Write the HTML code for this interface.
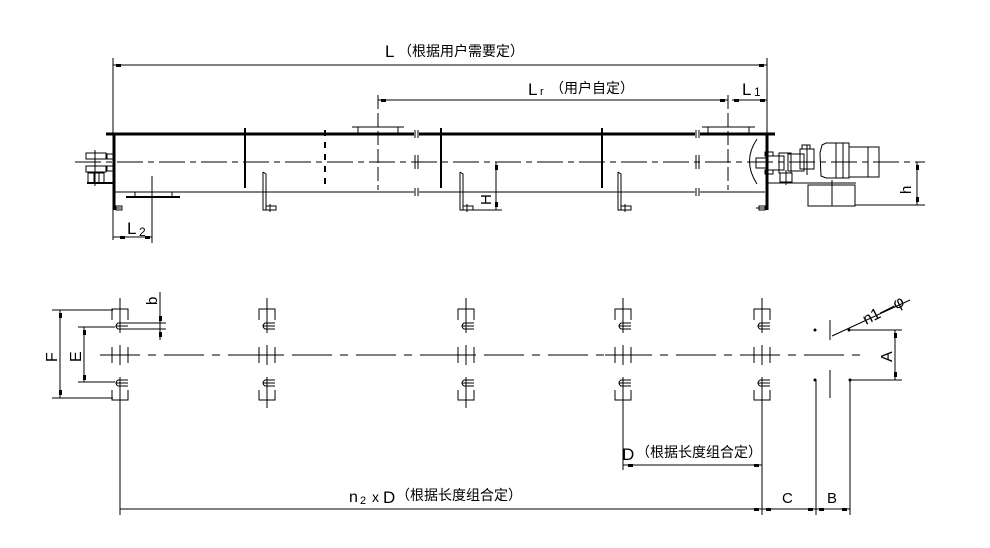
<!DOCTYPE html>
<html><head><meta charset="utf-8"><style>
html,body{margin:0;padding:0;background:#fff;}
svg{display:block;}
text{font-family:"Liberation Sans","Noto Sans CJK SC",sans-serif;fill:#000;}
</style></head><body>
<svg width="990" height="548" viewBox="0 0 990 548" xmlns="http://www.w3.org/2000/svg">
<defs>
<g id="bolt" stroke="#000" stroke-width="1" fill="none">
  <line x1="0" y1="298" x2="0" y2="333"/>
  <polyline points="-8,320 -8,309 8,309 8,320"/>
  <path d="M8,323 H-2 Q-6,326 -2,329 H8 M-4,326 H8"/>
  <line x1="-18" y1="355" x2="10" y2="355"/>
  <line x1="-8" y1="347" x2="-8" y2="363"/>
  <line x1="0" y1="345" x2="0" y2="365"/>
  <line x1="8" y1="347" x2="8" y2="363"/>
  <path d="M8,380 H-2 Q-6,383 -2,386 H8 M-4,383 H8"/>
  <polyline points="-8,390 -8,400 8,400 8,390"/>
  <line x1="0" y1="377" x2="0" y2="408"/>
</g>
<g id="sup" stroke="#000" stroke-width="1" fill="none">
  <polyline points="0,172 0,210 3,210 3,174 0,172"/>
  <rect x="3" y="206" width="10" height="4"/>
  <line x1="7" y1="204" x2="7" y2="212"/>
</g>
</defs>

<!-- top dimensions -->
<g stroke="#000" stroke-width="1" fill="none">
  <line x1="113" y1="58" x2="113" y2="240"/>
  <line x1="767" y1="58" x2="767" y2="135"/>
  <line x1="113" y1="65" x2="767" y2="65"/>
  <line x1="378" y1="95" x2="378" y2="190" stroke-dasharray="14,4"/>
  <line x1="728" y1="95" x2="728" y2="190" stroke-dasharray="14,4"/>
  <line x1="378" y1="100" x2="728" y2="100"/>
  <line x1="732" y1="100" x2="767" y2="100"/>
</g>
<g fill="#000">
  <rect x="116" y="64" width="5" height="3"/><rect x="759" y="64" width="5" height="3"/>
  <rect x="381" y="99" width="5" height="3"/><rect x="720" y="99" width="5" height="3"/>
  <rect x="734" y="99" width="5" height="3"/><rect x="760" y="99" width="5" height="3"/>
</g>
<text x="385" y="57" font-size="17">L</text>
<text x="398" y="56" font-size="14">（根据用户需要定）</text>
<text x="528" y="95" font-size="17">L</text><text x="540" y="95" font-size="11">r</text>
<text x="550" y="93" font-size="14">（用户自定）</text>
<text x="742" y="95" font-size="17">L</text><text x="754" y="96" font-size="12">1</text>

<!-- trough -->
<g stroke="#000" fill="none">
  <line x1="106" y1="134" x2="414" y2="134" stroke-width="3"/>
  <line x1="419" y1="134" x2="695" y2="134" stroke-width="3"/>
  <line x1="700" y1="134" x2="775" y2="134" stroke-width="3"/>
  <line x1="113" y1="192" x2="414" y2="192"/>
  <line x1="419" y1="192" x2="695" y2="192"/>
  <line x1="700" y1="192" x2="765" y2="192"/>
  <line x1="75" y1="162" x2="925" y2="162" stroke-dasharray="26,5,6,5"/>
  <line x1="114" y1="134" x2="114" y2="210" stroke-width="3"/>
  <line x1="767" y1="134" x2="767" y2="210" stroke-width="3"/>
  <line x1="245" y1="128" x2="245" y2="188" stroke-width="2"/>
  <line x1="441" y1="128" x2="441" y2="188" stroke-width="2"/>
  <line x1="602" y1="128" x2="602" y2="188" stroke-width="2"/>
  <line x1="325" y1="130" x2="325" y2="189" stroke-width="2" stroke-dasharray="6,6"/>
  <line x1="415" y1="130" x2="415" y2="138"/><line x1="418" y1="130" x2="418" y2="138"/>
  <line x1="415" y1="155" x2="415" y2="169"/><line x1="418" y1="155" x2="418" y2="169"/>
  <line x1="415" y1="188" x2="415" y2="196"/><line x1="418" y1="188" x2="418" y2="196"/>
  <line x1="696" y1="130" x2="696" y2="138"/><line x1="699" y1="130" x2="699" y2="138"/>
  <line x1="696" y1="155" x2="696" y2="169"/><line x1="699" y1="155" x2="699" y2="169"/>
  <line x1="696" y1="188" x2="696" y2="196"/><line x1="699" y1="188" x2="699" y2="196"/>
  <!-- inlets -->
  <line x1="352" y1="127" x2="404" y2="127"/><line x1="358" y1="127" x2="358" y2="134"/><line x1="398" y1="127" x2="398" y2="134"/>
  <line x1="702" y1="127" x2="755" y2="127"/><line x1="708" y1="127" x2="708" y2="134"/><line x1="749" y1="127" x2="749" y2="134"/>
  <!-- outlet -->
  <line x1="126" y1="197" x2="180" y2="197" stroke-width="2"/><line x1="135" y1="192" x2="135" y2="197"/><line x1="172" y1="192" x2="172" y2="197"/>
  <line x1="152" y1="176" x2="152" y2="243"/>
  <line x1="113" y1="237" x2="152" y2="237"/>
  <!-- arc -->
  <path d="M757,139 Q742,161 757,184"/>
  <!-- left bearing -->
  <rect x="86" y="153" width="20" height="6"/><rect x="86" y="166" width="20" height="6"/>
  <rect x="107" y="154" width="6" height="5"/><rect x="107" y="166" width="6" height="5"/>
  <rect x="88" y="173" width="16" height="10"/><line x1="94" y1="173" x2="94" y2="183"/><line x1="99" y1="173" x2="99" y2="183"/>
  <line x1="87" y1="183" x2="114" y2="183" stroke-width="2"/>
  <line x1="95" y1="150" x2="95" y2="186"/>
  <line x1="115" y1="208" x2="121" y2="208"/><rect x="116" y="206" width="6" height="4"/>
  <!-- H dim -->
  <line x1="496" y1="162" x2="496" y2="210"/><line x1="463" y1="210" x2="502" y2="210"/>
  <!-- right drive -->
  <rect x="756" y="158" width="10" height="10"/>
  <rect x="766" y="156" width="18" height="14"/>
  <rect x="765" y="152" width="8" height="4"/><rect x="765" y="170" width="8" height="4"/>
  <rect x="779" y="153" width="12" height="20"/>
  <rect x="788" y="154" width="16" height="17"/>
  <rect x="800" y="149" width="14" height="20"/>
  <rect x="802" y="145" width="8" height="4"/>
  <line x1="807" y1="145" x2="807" y2="175"/>
  <rect x="780" y="173" width="12" height="9"/><line x1="786" y1="170" x2="786" y2="185"/>
  <path d="M822,145 L820,153 L821,176 L826,178 L849,178 L849,143 L826,143 Z"/>
  <line x1="836" y1="143" x2="836" y2="178"/><line x1="843" y1="143" x2="843" y2="178"/>
  <rect x="849" y="147" width="30" height="30"/>
  <line x1="868" y1="147" x2="868" y2="177"/>
  <line x1="768" y1="183" x2="856" y2="183"/>
  <rect x="808" y="185" width="47" height="21"/>
  <line x1="832" y1="180" x2="832" y2="206"/>
  <line x1="855" y1="205" x2="925" y2="205"/>
  <line x1="917" y1="162" x2="917" y2="205"/>
  <line x1="756" y1="208" x2="766" y2="208"/><rect x="759" y="206" width="6" height="4"/>
</g>
<use href="#sup" x="263"/><use href="#sup" x="460"/><use href="#sup" x="618"/>
<g fill="#000">
  <rect x="120" y="236" width="5" height="3"/><rect x="145" y="236" width="5" height="3"/>
  <rect x="495" y="165" width="3" height="5"/><rect x="495" y="202" width="3" height="5"/>
  <rect x="916" y="165" width="3" height="5"/><rect x="916" y="197" width="3" height="5"/>
</g>
<text x="127" y="234" font-size="17">L</text><text x="139" y="236" font-size="12">2</text>
<text x="0" y="0" font-size="15" transform="translate(491,205) rotate(-90)">H</text>
<text x="0" y="0" font-size="15" transform="translate(911,194) rotate(-90)">h</text>

<!-- bottom view -->
<g stroke="#000" stroke-width="1" fill="none">
  <line x1="100" y1="355" x2="860" y2="355" stroke-dasharray="40,8,8,8"/>
  <line x1="52" y1="310" x2="113" y2="310"/><line x1="52" y1="398" x2="113" y2="398"/>
  <line x1="60" y1="310" x2="60" y2="398"/>
  <line x1="78" y1="327" x2="115" y2="327"/><line x1="78" y1="382" x2="115" y2="382"/>
  <line x1="84" y1="327" x2="84" y2="382"/>
  <line x1="122" y1="323" x2="166" y2="323"/><line x1="122" y1="329" x2="166" y2="329"/>
  <line x1="160" y1="292" x2="160" y2="340"/>
  <line x1="120" y1="405" x2="120" y2="515"/>
  <line x1="762" y1="405" x2="762" y2="515"/>
  <line x1="623" y1="405" x2="623" y2="470"/>
  <line x1="623" y1="465" x2="762" y2="465"/>
  <line x1="120" y1="509" x2="850" y2="509"/>
  <line x1="816" y1="380" x2="816" y2="515"/>
  <line x1="850" y1="380" x2="850" y2="515"/>
  <line x1="830" y1="320" x2="830" y2="340"/><line x1="830" y1="370" x2="830" y2="398"/>
  <line x1="820" y1="355" x2="840" y2="355"/>
  <line x1="850" y1="330" x2="902" y2="330"/><line x1="850" y1="380" x2="902" y2="380"/>
  <line x1="895" y1="330" x2="895" y2="380"/>
  <line x1="832" y1="336" x2="910" y2="300"/>
</g>
<use href="#bolt" x="120"/><use href="#bolt" x="267"/><use href="#bolt" x="466"/><use href="#bolt" x="623"/><use href="#bolt" x="762"/>
<g fill="#000">
  <rect x="59" y="313" width="3" height="5"/><rect x="59" y="390" width="3" height="5"/>
  <rect x="83" y="330" width="3" height="5"/><rect x="83" y="375" width="3" height="5"/>
  <rect x="159" y="316" width="3" height="5"/><rect x="159" y="332" width="3" height="5"/>
  <rect x="894" y="333" width="3" height="5"/><rect x="894" y="372" width="3" height="5"/>
  <circle cx="815" cy="330" r="1.5"/><circle cx="815" cy="380" r="1.5"/><circle cx="850" cy="380" r="1.5"/><circle cx="849" cy="330" r="1.5"/>
  <rect x="628" y="464" width="5" height="3"/><rect x="754" y="464" width="5" height="3"/>
  <rect x="754" y="508" width="5" height="3"/><rect x="766" y="508" width="5" height="3"/>
  <rect x="808" y="508" width="5" height="3"/><rect x="819" y="508" width="5" height="3"/>
  <rect x="842" y="508" width="5" height="3"/>
</g>
<text x="0" y="0" font-size="16" transform="translate(57,362) rotate(-90)">F</text>
<text x="0" y="0" font-size="16" transform="translate(81,362) rotate(-90)">E</text>
<text x="0" y="0" font-size="15" transform="translate(157,305) rotate(-90)">b</text>
<text x="0" y="0" font-size="16" transform="translate(892,362) rotate(-90)">A</text>
<text x="0" y="0" font-size="16" transform="translate(866,325) rotate(-27)">n1—φ</text>
<text x="622" y="460" font-size="17">D</text><text x="636" y="457" font-size="14">（根据长度组合定）</text>
<text x="349" y="502" font-size="16">n</text><text x="360" y="504" font-size="11">2</text>
<text x="372" y="502" font-size="14">x</text><text x="383" y="503" font-size="17">D</text>
<text x="396" y="500" font-size="14">（根据长度组合定）</text>
<text x="782" y="503" font-size="15">C</text>
<text x="827" y="503" font-size="15">B</text>
</svg>
</body></html>
